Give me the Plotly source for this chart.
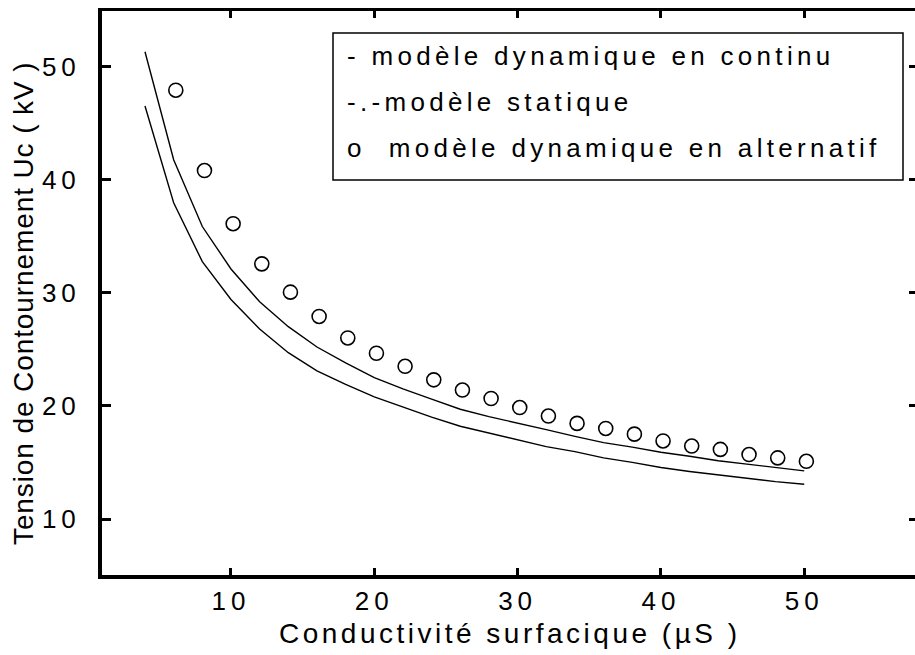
import plotly.graph_objects as go

# Conductivité surfacique (µS) for the two continuous models
x_lines = [4, 6, 8, 10, 12, 14, 16, 18, 20, 22, 24, 26, 28, 30,
           32, 34, 36, 38, 40, 42, 44, 46, 48, 50]
# Flashover voltage (kV), upper curve
u_upper = [51.3, 41.75, 35.85, 32.1, 29.2, 27.0, 25.2, 23.8, 22.5, 21.5,
           20.6, 19.7, 19.05, 18.5, 17.9, 17.3, 16.75, 16.35, 15.9, 15.55,
           15.15, 14.85, 14.55, 14.25]
# Flashover voltage (kV), lower curve
u_lower = [46.5, 37.95, 32.75, 29.4, 26.8, 24.7, 23.1, 21.9, 20.8, 19.9,
           19.0, 18.2, 17.6, 17.0, 16.4, 15.95, 15.4, 15.0, 14.55, 14.2,
           13.9, 13.6, 13.3, 13.07]

# AC dynamic model points
x_ac = [6.15, 8.15, 10.15, 12.15, 14.15, 16.15, 18.15, 20.15, 22.15, 24.15,
        26.15, 28.15, 30.15, 32.15, 34.15, 36.15, 38.15, 40.15, 42.15, 44.15,
        46.15, 48.15, 50.15]
u_ac = [47.9, 40.8, 36.1, 32.55, 30.05, 27.9, 26.0, 24.65, 23.5, 22.3,
        21.4, 20.65, 19.85, 19.1, 18.45, 18.0, 17.5, 16.9, 16.45, 16.15,
        15.7, 15.4, 15.1]

x_ticks = [10, 20, 30, 40, 50]
y_ticks = [10, 20, 30, 40, 50]

x_title = "Conductivité surfacique (µS )"
y_title = "Tension de Contournement Uc ( kV )"
legend_lines = ["- modèle dynamique en continu",
                "-.-modèle statique",
                "o  modèle dynamique en alternatif"]

FONT = "Liberation Sans, Arial, sans-serif"
PLOT_L, PLOT_T, PLOT_B, W, H = 102, 11, 575, 915, 655
PW, PH = W - PLOT_L, PLOT_B - PLOT_T


def spaced(s, px):
    return f"<span style='letter-spacing:{px}px'>{s}</span>"


def px_x(p):
    return (p - PLOT_L) / PW


def px_y(p):
    return (PLOT_B - p) / PH


fig = go.Figure()
fig.add_trace(go.Scatter(x=x_lines, y=u_upper, mode="lines",
                         line=dict(color="black", width=1.4), showlegend=False))
fig.add_trace(go.Scatter(x=x_lines, y=u_lower, mode="lines",
                         line=dict(color="black", width=1.4), showlegend=False))
fig.add_trace(go.Scatter(x=x_ac, y=u_ac, mode="markers",
                         marker=dict(symbol="circle-open", size=14, color="black",
                                     line=dict(width=1.6)),
                         showlegend=False))
# invisible trace carrying the top / right tick marks
fig.add_trace(go.Scatter(x=[x_ticks[0]], y=[y_ticks[0]], xaxis="x2", yaxis="y2",
                         mode="markers", marker=dict(opacity=0),
                         showlegend=False, hoverinfo="skip"))

tick_font = dict(family=FONT, size=26, color="black")
fig.update_layout(
    width=W, height=H,
    margin=dict(l=PLOT_L, r=0, t=PLOT_T, b=H - PLOT_B),
    plot_bgcolor="white", paper_bgcolor="white",
    xaxis=dict(range=[1.0, 57.73], showline=True, linewidth=4, linecolor="black",
               ticks="inside", ticklen=7, tickwidth=3, tickcolor="black",
               tickvals=x_ticks, ticktext=[spaced(str(v), 5) for v in x_ticks],
               tickfont=tick_font, showgrid=False, zeroline=False),
    yaxis=dict(range=[5.05, 54.9], showline=True, linewidth=4, linecolor="black",
               ticks="inside", ticklen=9, tickwidth=3, tickcolor="black",
               tickvals=y_ticks, ticktext=[spaced(str(v), 5) for v in y_ticks],
               tickfont=tick_font, showgrid=False, zeroline=False,
               ticklabelstandoff=12),
    xaxis2=dict(overlaying="x", side="top", matches="x", showline=True,
                linewidth=3, linecolor="black", ticks="inside", ticklen=7,
                tickwidth=3, tickcolor="black", tickvals=x_ticks,
                showticklabels=False, showgrid=False, zeroline=False),
    yaxis2=dict(overlaying="y", side="right", matches="y", showline=False,
                ticks="inside", ticklen=6, tickwidth=3, tickcolor="black",
                tickvals=y_ticks, showticklabels=False, showgrid=False,
                zeroline=False),
)

# axis titles
fig.add_annotation(xref="paper", yref="paper", x=px_x(510), y=px_y(633),
                   xanchor="center", yanchor="middle", showarrow=False,
                   text=spaced(x_title, 3.5),
                   font=dict(family=FONT, size=28, color="black"))
fig.add_annotation(xref="paper", yref="paper", x=px_x(24), y=px_y(304),
                   xanchor="center", yanchor="middle", showarrow=False,
                   textangle=-90, text=spaced(y_title, 0.9),
                   font=dict(family=FONT, size=28, color="black"))

# legend box with its three text lines
fig.add_shape(type="rect", xref="paper", yref="paper",
              x0=px_x(333), x1=px_x(903), y0=px_y(180), y1=px_y(33),
              line=dict(color="black", width=1.5), fillcolor="white", layer="above")
for i, txt in enumerate(legend_lines):
    fig.add_annotation(xref="paper", yref="paper",
                       x=px_x(345), y=px_y(56 + 46 * i),
                       xanchor="left", yanchor="middle", showarrow=False,
                       text=spaced(txt, 4.3),
                       font=dict(family=FONT, size=26, color="black"))

fig.write_html("out.html")
